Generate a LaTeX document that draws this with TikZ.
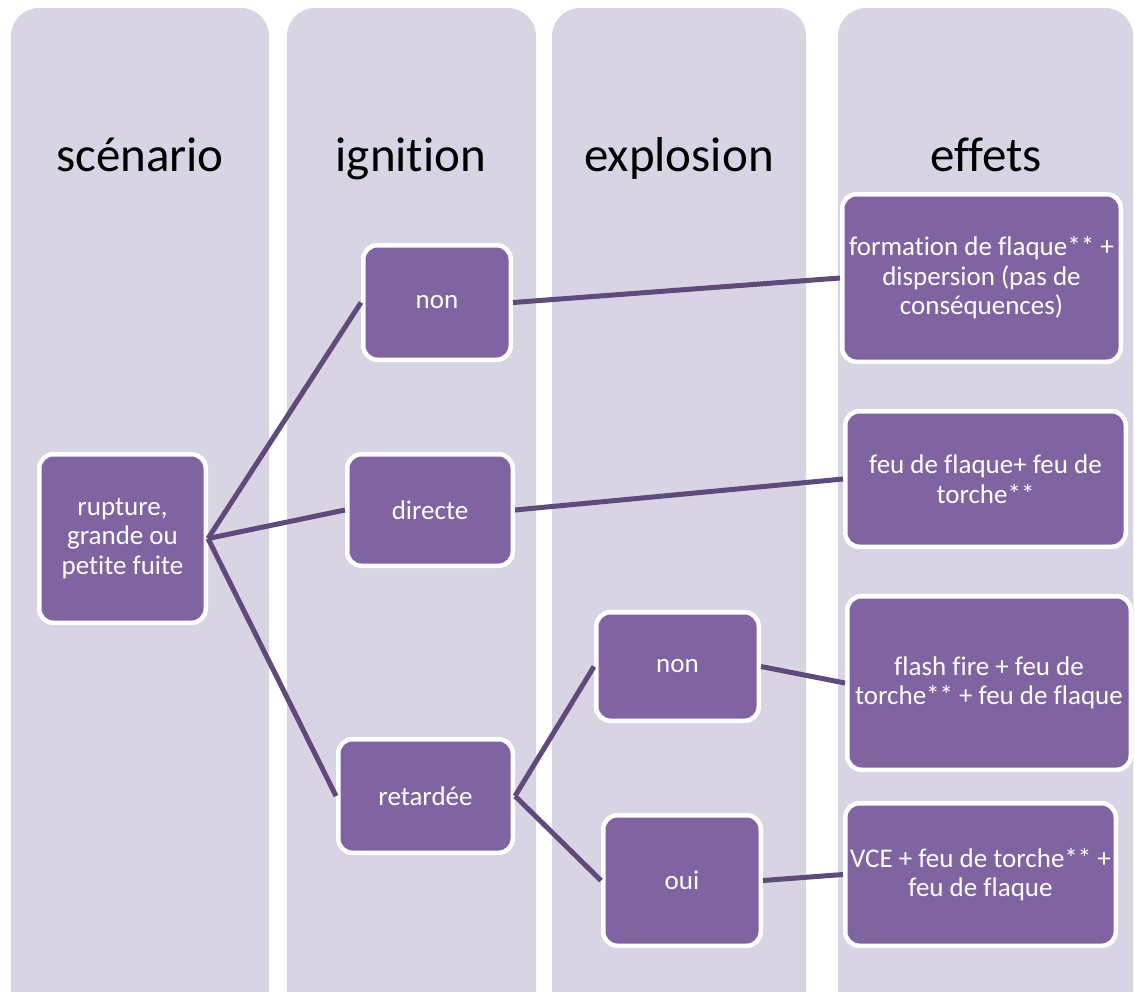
\documentclass[tikz,border=0pt]{standalone}
\usepackage{fontspec}
\setmainfont{Carlito}[Ligatures={TeX,NoCommon}]
\definecolor{laneBg}{HTML}{D8D4E3}
\definecolor{boxFill}{HTML}{8064A2}
\definecolor{linkCol}{HTML}{604A7B}
\begin{document}
\begin{tikzpicture}[x=1pt,y=-1pt,
  lane/.style={fill=laneBg, rounded corners=28pt},
  box/.style={fill=boxFill, draw=white, line width=4.5pt, rounded corners=14pt,
    text=white, align=center, inner sep=0pt,
    font=\fontsize{27}{29.5}\selectfont},
  link/.style={draw=linkCol, line width=5pt},
  lanetitle/.style={font=\fontsize{49}{56}\selectfont, text=black, inner sep=0pt, anchor=base}]
\useasboundingbox (0,0) rectangle (1135,991);
\clip (0,0) rectangle (1135,991);

% background lanes
\fill[lane] (11,8) rectangle (269,1040);
\fill[lane] (287,8) rectangle (536,1040);
\fill[lane] (552,8) rectangle (806,1040);
\fill[lane] (838,8) rectangle (1133,1040);

% lane headings
\node[lanetitle] (t1) at (140,171) {scénario};
\node[lanetitle] (t2) at (411,171) {ignition};
\node[lanetitle] (t3) at (679,171) {explosion};
\node[lanetitle] (t4) at (986,171) {effets};

% decision nodes
\node[box, minimum width=166.5pt, minimum height=168.5pt] (rup) at (122.5,538.5)
  {rupture,\\grande ou\\petite fuite};
\node[box, minimum width=147.5pt, minimum height=114.5pt] (ign) at (437,302.5) {non};
\node[box, minimum width=165.5pt, minimum height=111.5pt] (dir) at (430,510) {directe};
\node[box, minimum width=174.5pt, minimum height=113.5pt] (ret) at (425.5,796) {retardée};
\node[box, minimum width=162.5pt, minimum height=108.5pt] (exn) at (677.5,666.5) {non};
\node[box, minimum width=157.5pt, minimum height=130.5pt] (oui) at (682,880.5) {oui};

% outcome nodes
\node[box, minimum width=278.5pt, minimum height=167.5pt] (e1) at (981.5,278)
  {formation de flaque** +\\dispersion (pas de\\conséquences)};
\node[box, minimum width=280.5pt, minimum height=135.5pt] (e2) at (985.5,479)
  {feu de flaque+ feu de\\torche**};
\node[box, minimum width=283.5pt, minimum height=173.5pt] (e3) at (989,683)
  {flash fire + feu de\\torche** + feu de flaque};
\node[box, minimum width=270.5pt, minimum height=142.5pt] (e4) at (980.5,874.5)
  {VCE + feu de torche** +\\feu de flaque};

% connectors
\draw[link] (rup.east) -- (ign.west);
\draw[link] (rup.east) -- (dir.west);
\draw[link] (rup.east) -- (ret.west);
\draw[link] (ign.east) -- (e1.west);
\draw[link] (dir.east) -- (e2.west);
\draw[link] (ret.east) -- (exn.west);
\draw[link] (ret.east) -- (oui.west);
\draw[link] (exn.east) -- (e3.west);
\draw[link] (oui.east) -- (e4.west);
\end{tikzpicture}
\end{document}
